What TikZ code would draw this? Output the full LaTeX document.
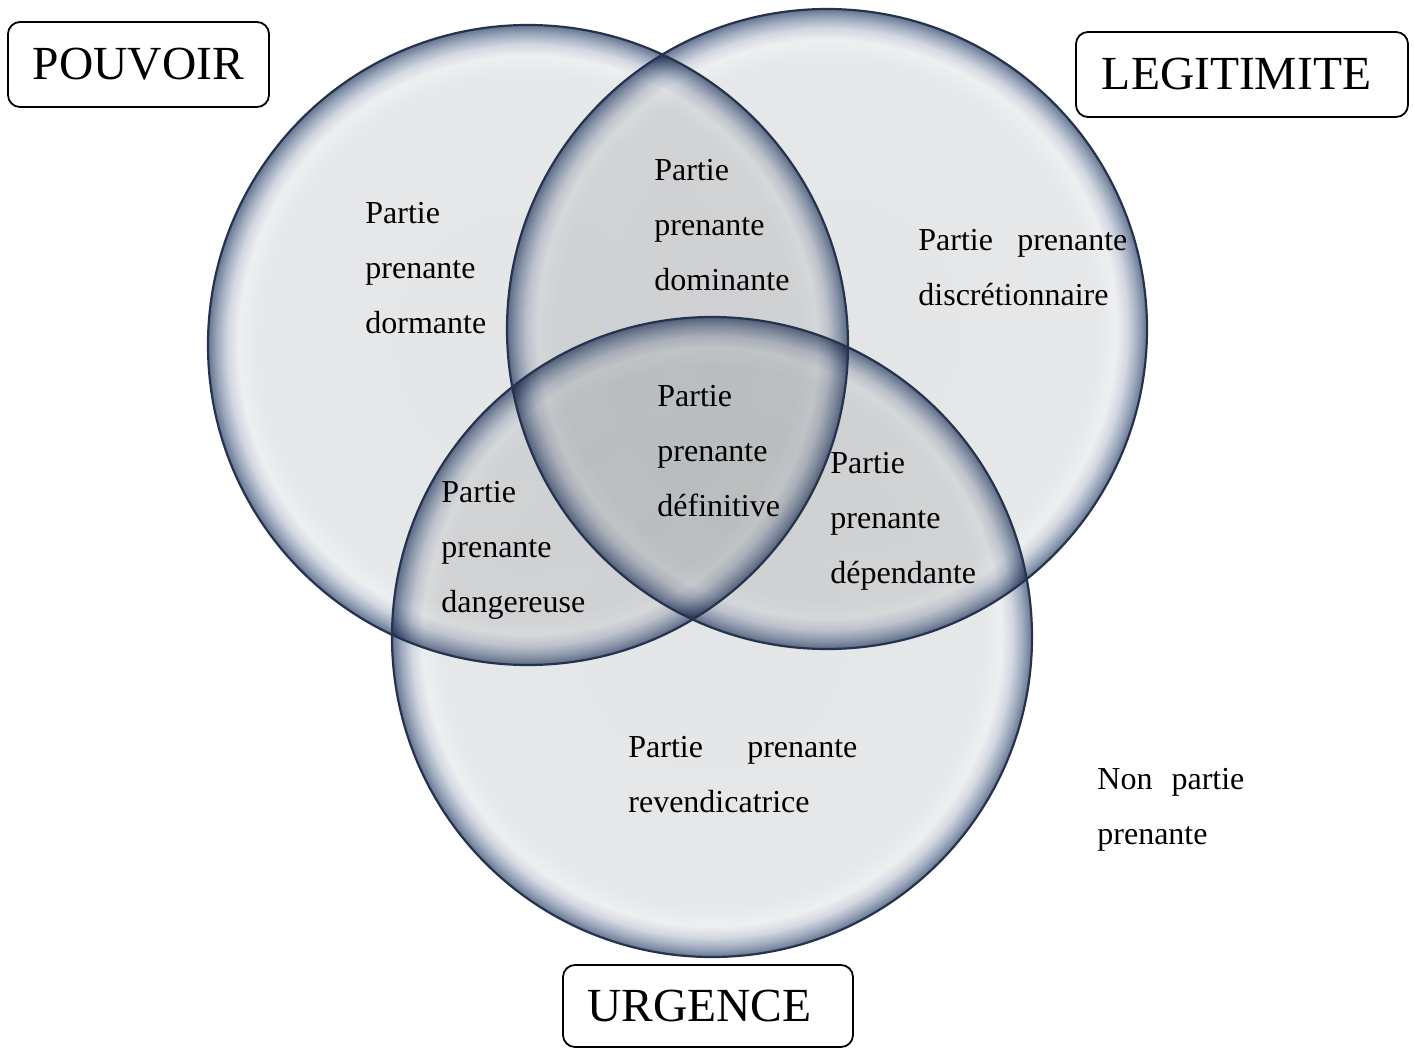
\documentclass[tikz,border=0pt]{standalone}
\usepackage{fontspec}
\setmainfont{Liberation Serif}
\definecolor{cin}{HTML}{E4E5E7}
\definecolor{cin2}{HTML}{E7E8E9}
\definecolor{clight}{HTML}{EEEFF0}
\definecolor{cfrA}{HTML}{D2D7E0}
\definecolor{cfrB}{HTML}{9DA9BD}
\definecolor{cedge}{HTML}{667591}
\definecolor{rimcol}{HTML}{26334F}
\pgfdeclareradialshading{vennshade}{\pgfpoint{0bp}{0bp}}{color(0bp)=(cin); color(21.2bp)=(cin2); color(22.6bp)=(clight); color(23.5bp)=(cfrA); color(24.3bp)=(cfrB); color(25bp)=(cedge); color(50bp)=(cedge)}
\tikzset{
  rim/.style={draw=rimcol, line width=1.1pt},
  lbl/.style={anchor=base west, inner sep=0pt, font=\fontsize{16pt}{27.5pt}\selectfont},
  tag/.style={draw=black, rounded corners=6pt, line width=0.9pt, inner sep=0pt, font=\fontsize{23.75pt}{28pt}\selectfont}
}
\begin{document}
\begin{tikzpicture}[x=0.5pt,y=-0.5pt]
\useasboundingbox (0,0) rectangle (1414,1050);
\fill[white] (0,0) rectangle (1414,1050);
\coordinate (P) at (528,345);
\coordinate (L) at (827,329);
\coordinate (U) at (712,637);
\begin{scope}[blend group=multiply]
  \shade[shading=vennshade] (P) circle (320);
  \shade[shading=vennshade] (L) circle (320);
  \shade[shading=vennshade] (U) circle (320);
\end{scope}
\draw[rim] (P) circle (320);
\draw[rim] (L) circle (320);
\draw[rim] (U) circle (320);

\node[tag, minimum width=130.5pt, minimum height=42.5pt] (pouvoir) at (138.5,64.5) {POUVOIR};
\node[tag, minimum width=166pt, minimum height=42.5pt] (legitimite) at (1242,74.5) {LEGITIMITE\hspace*{5.5pt}};
\node[tag, minimum width=145pt, minimum height=41pt] (urgence) at (708,1006) {URGENCE\hspace*{8.5pt}};

\node[lbl] (dormante) at (365,223) {\begin{tabular}[t]{@{}l@{}}Partie\\prenante\\dormante\end{tabular}};
\node[lbl] (dominante) at (654,180) {\begin{tabular}[t]{@{}l@{}}Partie\\prenante\\dominante\end{tabular}};
\node[lbl] (discretionnaire) at (918,250) {\begin{tabular}[t]{@{}l@{}}\makebox[104.5pt][s]{Partie prenante}\\discrétionnaire\end{tabular}};
\node[lbl] (definitive) at (657,406) {\begin{tabular}[t]{@{}l@{}}Partie\\prenante\\définitive\end{tabular}};
\node[lbl] (dependante) at (830,473) {\begin{tabular}[t]{@{}l@{}}Partie\\prenante\\dépendante\end{tabular}};
\node[lbl] (dangereuse) at (441,502) {\begin{tabular}[t]{@{}l@{}}Partie\\prenante\\dangereuse\end{tabular}};
\node[lbl] (revendicatrice) at (628,757) {\begin{tabular}[t]{@{}l@{}}\makebox[114.5pt][s]{Partie prenante}\\revendicatrice\end{tabular}};
\node[lbl] (nonpartie) at (1097,789) {\begin{tabular}[t]{@{}l@{}}\makebox[73.5pt][s]{Non partie}\\prenante\end{tabular}};
\end{tikzpicture}
\end{document}
